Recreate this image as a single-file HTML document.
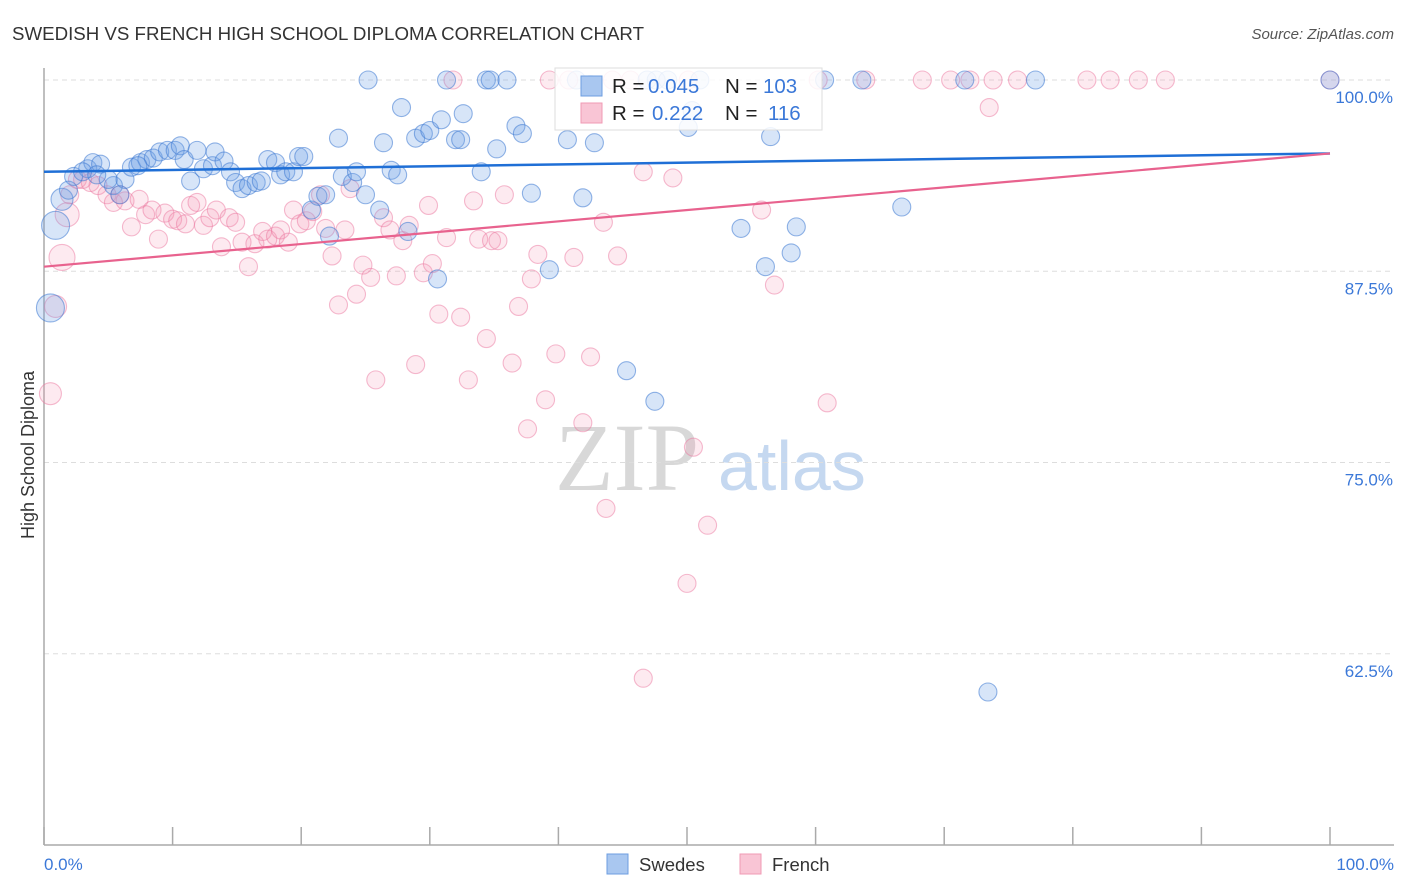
<!DOCTYPE html>
<html><head><meta charset="utf-8"><style>
body{margin:0;background:#fff;font-family:"Liberation Sans",sans-serif;}
#wrap{position:relative;width:1406px;height:892px;overflow:hidden}
</style></head><body>
<div id="wrap">
<svg id="svg" width="1406" height="892" xmlns="http://www.w3.org/2000/svg">
<text x="12" y="40" font-size="18.7" fill="#333">SWEDISH VS FRENCH HIGH SCHOOL DIPLOMA CORRELATION CHART</text>
<text x="1394" y="39" font-size="15" fill="#555" font-style="italic" text-anchor="end">Source: ZipAtlas.com</text>
<text x="34" y="455" font-size="18" fill="#333" text-anchor="middle" transform="rotate(-90 34 455)">High School Diploma</text>
<text x="555" y="490" font-size="96" fill="#d8d8d8" font-family="Liberation Serif,serif">ZIP</text>
<text x="718" y="490" font-size="70" fill="#c5d8f0">atlas</text>
<g id="grid"></g><g id="axes"></g><g id="pts"></g><g id="trend"></g>
<g>
<rect x="555" y="68" width="267" height="62" fill="#fff" fill-opacity="0.85" stroke="#ddd"/>
<rect x="581" y="76" width="21" height="20" fill="#a9c7f0" stroke="#6d9ee0"/>
<rect x="581" y="103" width="21" height="20" fill="#f9c5d5" stroke="#f09ab4"/>
<text y="93" font-size="20.5"><tspan x="612" fill="#222">R = </tspan><tspan x="648" fill="#3b78d8">0.045</tspan><tspan x="725" fill="#222">N = </tspan><tspan x="763" fill="#3b78d8">103</tspan></text>
<text y="120" font-size="20.5"><tspan x="612" fill="#222">R = </tspan><tspan x="652" fill="#3b78d8">0.222</tspan><tspan x="725" fill="#222">N = </tspan><tspan x="768" fill="#3b78d8">116</tspan></text>
</g>
<g>
<rect x="607" y="854" width="21" height="20" fill="#a9c7f0" stroke="#6d9ee0"/>
<text x="639" y="871" font-size="18.5" fill="#333">Swedes</text>
<rect x="740" y="854" width="21" height="20" fill="#f9c5d5" stroke="#f09ab4"/>
<text x="772" y="871" font-size="18.5" fill="#333">French</text>
</g>
</svg>
</div>
<script>
const yTicks=[100,87.5,75,62.5];
const yTickLabels=["100.0%","87.5%","75.0%","62.5%"];
const xTickLabels=["0.0%","100.0%"];
const swedesX=[0.9,0.5,1.4,1.9,2.3,3.4,3.8,4.4,5.4,5.0,6.3,6.8,7.5,8.0,8.5,9.0,9.6,10.2,10.6,10.9,11.4,11.9,12.4,13.1,13.3,14.0,14.5,14.9,15.4,15.9,16.5,16.9,17.4,18.0,18.4,18.8,19.4,19.8,20.2,20.8,21.3,21.9,22.2,22.9,23.2,24.0,24.3,25.0,25.2,26.1,26.4,27.0,27.5,27.8,28.3,28.9,29.5,30.0,30.6,30.9,31.3,32.0,32.4,32.6,34.0,34.4,34.7,35.2,36.0,36.7,37.2,37.9,39.3,40.7,41.9,42.8,45.3,47.5,50.1,50.4,54.2,56.1,56.5,58.1,58.5,60.7,63.6,66.7,71.6,73.4,77.1,100,41.4,42.5,46.9,47.6,48.5,51.0,3.0,4.1,5.9,7.3];
const swedesY=[90.5,85.1,92.2,92.8,93.7,94.2,94.6,94.5,93.1,93.5,93.5,94.3,94.6,94.8,94.9,95.3,95.4,95.4,95.7,94.8,93.4,95.4,94.2,94.4,95.3,94.7,94.0,93.3,92.9,93.1,93.3,93.4,94.8,94.6,93.8,94.0,94.0,95.0,95.0,91.5,92.4,92.5,89.8,96.2,93.7,93.3,94.0,92.5,100,91.5,95.9,94.1,93.8,98.2,90.1,96.2,96.5,96.7,87.0,97.4,100,96.1,96.1,97.8,94.0,100,100,95.5,100,97.0,96.5,92.6,87.6,96.1,92.3,95.9,81.0,79.0,96.9,98.0,90.3,87.8,96.3,88.7,90.4,100,100,91.7,100,60.0,100,100,100,99.7,100,100,100,100,94.0,93.8,92.5,94.4];
const swedesSize=[14,14,11];
const frenchX=[0.5,1.4,1.8,0.9,2.0,2.6,3.0,3.6,4.2,4.9,5.4,5.9,6.3,6.8,7.4,7.9,8.4,8.9,9.4,10.0,10.4,11.0,11.4,11.9,12.4,12.9,13.4,13.8,14.4,14.9,15.4,15.9,16.4,17.0,17.4,18.0,18.4,19.0,19.4,19.9,20.4,20.9,21.5,21.9,22.4,22.9,23.4,23.8,24.3,24.8,25.4,25.8,26.4,26.9,27.4,27.9,28.4,28.9,29.5,29.9,30.2,30.7,31.3,31.8,32.4,33.0,33.4,33.8,34.4,34.8,35.3,35.8,36.4,36.9,37.6,37.9,38.4,39.0,39.3,39.8,40.8,41.2,41.9,42.5,43.5,43.7,44.6,46.6,46.6,48.9,50.0,50.5,51.6,55.8,56.8,60.9,60.2,63.9,68.3,70.5,72.0,73.5,73.8,75.7,81.1,82.9,85.1,87.2,100,44.2,45.6,50.1];
const frenchY=[79.5,88.4,91.2,85.2,92.5,93.5,93.5,93.3,93.1,92.5,92.0,92.5,92.1,90.4,92.2,91.2,91.5,89.6,91.3,90.9,90.8,90.6,91.8,92.0,90.5,91.0,91.5,89.1,91.0,90.7,89.4,87.8,89.3,90.1,89.6,89.8,90.2,89.4,91.5,90.6,90.8,91.4,92.5,90.3,88.5,85.3,90.2,92.9,86.0,87.9,87.1,80.4,91.0,90.2,87.2,89.5,90.5,81.4,87.4,91.8,88.0,84.7,89.7,100,84.5,80.4,92.1,89.6,83.1,89.5,89.5,92.5,81.5,85.2,77.2,87.0,88.6,79.1,100,82.1,100,88.4,77.6,81.9,90.7,72.0,88.5,94.0,60.9,93.6,67.1,76.0,70.9,91.5,86.6,78.9,100,100,100,100,100,98.2,100,100,100,100,100,100,100,100,100,100];
const frenchSize=[11,13,12,11];
const swedesTrend=[94.0,95.2];
const frenchTrend=[87.8,95.2];
const NS="http://www.w3.org/2000/svg";
const X0=44,X1=1330,YT=80,YMIN=50,YMAX=100,YB=845;
function sx(v){return X0+(X1-X0)*v/100;}
function sy(v){return YT+(YMAX-v)*(YB-YT)/(YMAX-YMIN);}
function mk(t,a,p){const e=document.createElementNS(NS,t);for(const k in a)e.setAttribute(k,a[k]);p.appendChild(e);return e;}
const grid=document.getElementById('grid'),axes=document.getElementById('axes'),pts=document.getElementById('pts'),tr=document.getElementById('trend');
yTicks.forEach((v,i)=>{
 const l=mk('line',{x1:X0,x2:1394,y1:sy(v),y2:sy(v),stroke:'#ddd','stroke-dasharray':'5,4'},grid);
 
 
 const t=mk('text',{x:1393,y:sy(v)+23,'font-size':17,fill:'#3b78d8','text-anchor':'end'},grid);
 t.textContent=yTickLabels[i];
 
 
});
const la=mk('line',{x1:X0,x2:X0,y1:68,y2:YB,stroke:'#aaa','stroke-width':1.5},axes);


const ba=mk('line',{x1:X0,x2:1394,y1:YB,y2:YB,stroke:'#aaa','stroke-width':1.5},axes);


for(let i=0;i<=10;i++){
 const tk=mk('line',{x1:sx(i*10),x2:sx(i*10),y1:827,y2:YB,stroke:'#aaa','stroke-width':1.5},axes);
 
 
}
[[0,'start',44],[100,'end',1394]].forEach((d,i)=>{
 const t=mk('text',{x:d[2],y:870,'font-size':17,fill:'#3b78d8','text-anchor':d[1]},axes);
 t.textContent=xTickLabels[i];
 
 
});
function dots(X,Y,S,fill,stroke,name){
 X.forEach((x,i)=>{
  const c=mk('circle',{cx:sx(x),cy:sy(Y[i]),r:S[i]||9,fill:fill,stroke:stroke,'stroke-width':1.1},pts);
  
  
 });
}
dots(frenchX,frenchY,frenchSize,'rgba(244,150,180,0.2)','rgba(236,120,160,0.5)','french-point');
dots(swedesX,swedesY,swedesSize,'rgba(110,160,230,0.28)','rgba(60,120,210,0.55)','swedes-point');
const l1=mk('line',{x1:sx(0),x2:sx(100),y1:sy(swedesTrend[0]),y2:sy(swedesTrend[1]),stroke:'#1f6fd6','stroke-width':2.5},tr);


const l2=mk('line',{x1:sx(0),x2:sx(100),y1:sy(frenchTrend[0]),y2:sy(frenchTrend[1]),stroke:'#e8628e','stroke-width':2.2},tr);


</script>
</body></html>
